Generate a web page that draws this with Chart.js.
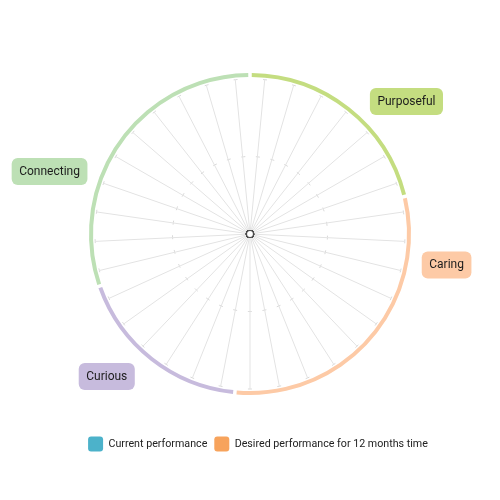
<!DOCTYPE html>
<html>
<head>
<meta charset="utf-8">
<script src="https://cdn.jsdelivr.net/npm/chart.js@4.4.0/dist/chart.umd.min.js"></script>
<style>
  html, body { margin: 0; padding: 0; background: #fff; }
  #wrap { width: 500px; height: 500px; }
</style>
</head>
<body>
<div id="wrap"><canvas id="radarChart"></canvas></div>
<script>
// groups of spokes, clockwise from the top
const groupNames = ['Purposeful', 'Caring', 'Curious', 'Connecting'];
const groupSizes = [7, 10, 6, 10];
const groupColors = ['#c4dd80', '#fdcaa6', '#c7bbdd', '#bde0b5'];

const currentPerformance = [0, 0, 0, 0, 0, 0, 0, 0, 0, 0, 0, 0, 0, 0, 0, 0, 0, 0, 0, 0, 0, 0, 0, 0, 0, 0, 0, 0, 0, 0, 0, 0, 0];
const desiredPerformance = [0, 0, 0, 0, 0, 0, 0, 0, 0, 0, 0, 0, 0, 0, 0, 0, 0, 0, 0, 0, 0, 0, 0, 0, 0, 0, 0, 0, 0, 0, 0, 0, 0];

const scaleMax = 10;
const scaleStep = 5;

// one category per spoke
const spokeLabels = [];
groupNames.forEach((name, g) => {
    for (let i = 0; i < groupSizes[g]; i++) spokeLabels.push(name + ' ' + (i + 1));
});

const spokeCount = spokeLabels.length;
const halfStepDeg = 180 / spokeCount;

// small marks where the grid rings cross the spokes
function ringDash(c) {
    const r = c.scale.getDistanceFromCenterForValue(c.tick.value);
    const period = 2 * Math.PI * r / spokeCount;
    return [4, period - 4];
}
function ringDashOffset(c) {
    const r = c.scale.getDistanceFromCenterForValue(c.tick.value);
    const period = 2 * Math.PI * r / spokeCount;
    let a0 = (halfStepDeg - 90) * Math.PI / 180;
    a0 = ((a0 % (2 * Math.PI)) + 2 * Math.PI) % (2 * Math.PI);
    const s = ((r * a0 - 2) % period + period) % period;
    return (period - s) % period;
}

// coloured ring segments + group name tags
const groupRing = {
    id: 'groupRing',
    afterDatasetsDraw(chart, args, opts) {
        const s = chart.scales.r;
        const ctx = chart.ctx;
        const step = 2 * Math.PI / spokeCount;
        let first = 0;
        ctx.save();
        groupNames.forEach((name, g) => {
            const last = first + groupSizes[g] - 1;
            const a0 = s.getIndexAngle(first) - step / 2 - Math.PI / 2 + opts.gap;
            const a1 = s.getIndexAngle(last) + step / 2 - Math.PI / 2 - opts.gap;
            ctx.beginPath();
            ctx.strokeStyle = groupColors[g];
            ctx.lineWidth = opts.width;
            ctx.arc(s.xCenter, s.yCenter, s.drawingArea + opts.offset, a0, a1);
            ctx.stroke();

            // tag
            const p = s.getPointPosition(opts.labelAt[g], s.drawingArea + opts.labelGap[g]);
            ctx.font = opts.font;
            const tw = ctx.measureText(name).width;
            const w = tw + opts.padX * 2;
            const h = opts.boxHeight;
            ctx.fillStyle = groupColors[g];
            ctx.beginPath();
            ctx.roundRect(p.x - w / 2, p.y - h / 2, w, h, opts.radius);
            ctx.fill();
            ctx.fillStyle = '#1c1c1c';
            ctx.textAlign = 'center';
            ctx.textBaseline = 'middle';
            ctx.fillText(name, p.x, p.y + 0.5);
            first = last + 1;
        });
        ctx.restore();
    }
};

// legend sits a little right of centre in the original
const legendNudge = {
    id: 'legendNudge',
    afterLayout(chart, args, opts) {
        chart.legend.left += opts.dx;
        chart.legend.right += opts.dx;
    }
};

const ctx = document.getElementById('radarChart');

new Chart(ctx, {
    type: 'radar',
    data: {
        labels: spokeLabels,
        datasets: [{
            label: 'Current performance',
            data: currentPerformance,
            backgroundColor: '#4cb2ca',
            borderColor: '#4cb2ca',
            borderWidth: 0,
            fill: false,
            pointRadius: 3.5,
            pointBackgroundColor: '#fff',
            pointBorderColor: '#4a4a4a',
            pointBorderWidth: 1.2
        },
        {
            label: 'Desired performance for 12 months time',
            data: desiredPerformance,
            backgroundColor: '#f7a35c',
            borderColor: '#f7a35c',
            borderWidth: 0,
            fill: false,
            pointRadius: 3.5,
            pointBackgroundColor: '#fff',
            pointBorderColor: '#444',
            pointBorderWidth: 1.2
        }]
    },
    options: {
        responsive: true,
        maintainAspectRatio: false,
        animation: false,
        layout: {
            padding: { top: 79, bottom: 38.5 }
        },
        scales: {
            r: {
                min: 0,
                max: scaleMax,
                startAngle: halfStepDeg,
                ticks: { display: false, stepSize: scaleStep },
                pointLabels: { display: false },
                angleLines: { color: '#e3e3e3', lineWidth: 1 },
                grid: { circular: true, color: '#d9d9d9', lineWidth: 1 },
                border: { dash: ringDash, dashOffset: ringDashOffset }
            }
        },
        plugins: {
            legend: {
                position: 'bottom',
                title: {
                    display: true,
                    text: ' ',
                    font: { size: 10 },
                    padding: { top: 28.5, bottom: 0 }
                },
                labels: {
                    boxWidth: 15,
                    boxHeight: 15,
                    useBorderRadius: true,
                    borderRadius: 3,
                    padding: 7,
                    color: '#222',
                    font: { family: 'Roboto', size: 10.7 }
                }
            },
            tooltip: { enabled: false },
            legendNudge: { dx: 8 },
            groupRing: {
                gap: 0.011,
                width: 4,
                offset: 4,
                font: '12px Roboto',
                padX: 7.5,
                boxHeight: 27,
                radius: 6,
                labelAt: [4.06, 8.57, 20.14, 25.84],
                labelGap: [50, 44, 47, 55]
            }
        }
    },
    plugins: [groupRing, legendNudge]
});
</script>
</body>
</html>
